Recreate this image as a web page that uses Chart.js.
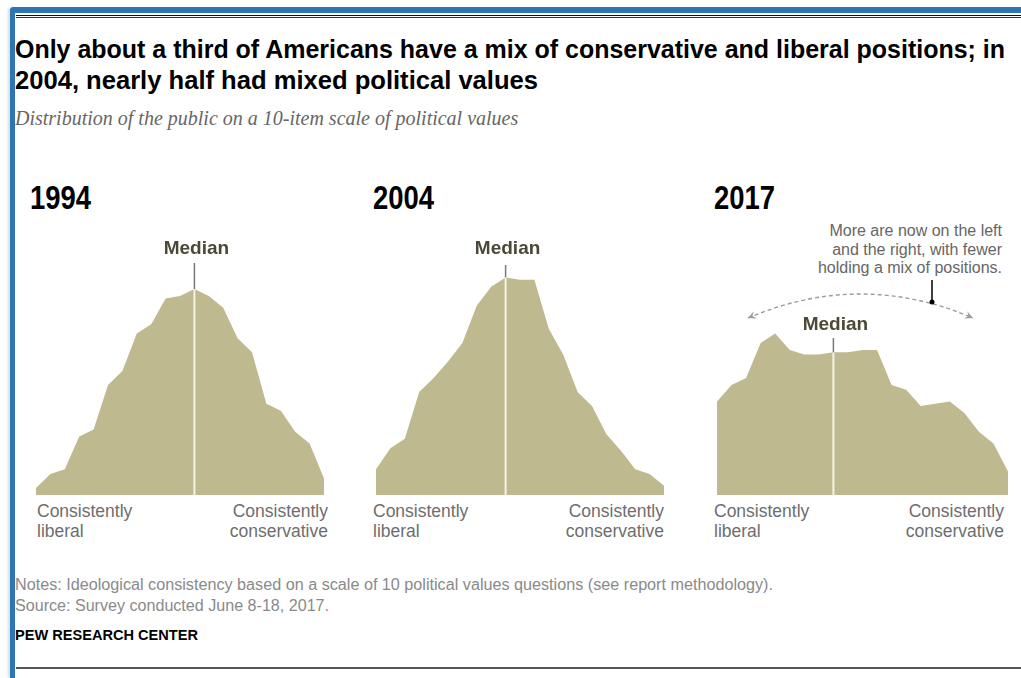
<!DOCTYPE html>
<html>
<head>
<meta charset="utf-8">
<script src="https://cdn.jsdelivr.net/npm/chart.js@4"></script>
<style>
  body { margin: 0; background: #fff; width: 1021px; height: 678px; overflow: hidden; position: relative; }
  .frame-top { position: absolute; left: 10px; top: 7px; width: 1011px; height: 6px; background: #2e75b6; border-top-left-radius: 4px; }
  .frame-left { position: absolute; left: 10px; top: 7px; width: 5px; height: 671px; background: #2e75b6; border-top-left-radius: 4px; box-shadow: -2px 0 3px rgba(0,0,0,0.15); }
  .rule1 { position: absolute; left: 16px; top: 15px; width: 1005px; height: 1px; background: #111; }
  .rule2 { position: absolute; left: 16px; top: 17px; width: 1005px; height: 1px; background: #333; }
  .rule3 { position: absolute; left: 16px; top: 667px; width: 1005px; height: 2px; background: #555; }
  .txt { position: absolute; white-space: nowrap; }
  .fit { display: inline-block; transform-origin: 0 0; }
  .title { left: 15px; font: bold 26px "Liberation Sans", sans-serif; color: #000; }
  #subtitle { left: 15px; top: 107px; font: italic 20px "Liberation Serif", serif; color: #666; }
  .year { font: bold 33px "Liberation Sans", sans-serif; color: #000; top: 179px; }
  .lab { font: 17.5px "Liberation Sans", sans-serif; color: #6e6e6e; line-height: 20px; top: 501px; }
  .right { text-align: right; }
  .notes { left: 15px; font: 16px "Liberation Sans", sans-serif; color: #8a8a8a; }
  #pew { left: 15px; top: 627px; font: bold 14px "Liberation Sans", sans-serif; color: #000; }
  #annot { right: 19px; top: 222px; font: 16px "Liberation Sans", sans-serif; color: #666; line-height: 18.5px; text-align: right; }
  canvas { position: absolute; }
</style>
</head>
<body>
<div class="frame-top"></div>
<div class="frame-left"></div>
<div class="rule1"></div>
<div class="rule2"></div>

<div class="txt title" style="top:34px"><span class="fit" data-w="990">Only about a third of Americans have a mix of conservative and liberal positions; in</span></div>
<div class="txt title" style="top:65px"><span class="fit" data-w="523">2004, nearly half had mixed political values</span></div>
<div id="subtitle" class="txt">Distribution of the public on a 10-item scale of political values</div>

<div class="txt year" style="left:30px"><span class="fit" data-w="61">1994</span></div>
<div class="txt year" style="left:373px"><span class="fit" data-w="61">2004</span></div>
<div class="txt year" style="left:714px"><span class="fit" data-w="61">2017</span></div>

<div id="annot" class="txt">More are now on the left<br>and the right, with fewer<br>holding a mix of positions.</div>

<canvas id="c1994" width="288" height="315" style="left:36px; top:180px"></canvas>
<canvas id="c2004" width="288" height="315" style="left:376px; top:180px"></canvas>
<canvas id="c2017" width="291" height="315" style="left:717px; top:180px"></canvas>

<div class="txt lab" style="left:37px">Consistently<br>liberal</div>
<div class="txt lab right" style="left:208px; width:120px">Consistently<br>conservative</div>
<div class="txt lab" style="left:373px">Consistently<br>liberal</div>
<div class="txt lab right" style="left:544px; width:120px">Consistently<br>conservative</div>
<div class="txt lab" style="left:714px">Consistently<br>liberal</div>
<div class="txt lab right" style="left:884px; width:120px">Consistently<br>conservative</div>

<div class="txt notes" style="top:576px"><span class="fit" data-w="758">Notes: Ideological consistency based on a scale of 10 political values questions (see report methodology).</span></div>
<div class="txt notes" style="top:597px"><span class="fit" data-w="314">Source: Survey conducted June 8-18, 2017.</span></div>
<div id="pew" class="txt"><span class="fit" data-w="183">PEW RESEARCH CENTER</span></div>
<div class="rule3"></div>

<script>
// scale positions -10 (consistently liberal) ... +10 (consistently conservative)
var scalePoints = [-10,-9,-8,-7,-6,-5,-4,-3,-2,-1,0,1,2,3,4,5,6,7,8,9,10];

// share of public at each point, %
var share1994 = [0.3, 0.9, 1.1, 2.5, 2.8, 4.7, 5.3, 6.9, 7.3, 8.4, 8.5, 8.8, 8.5, 8.0, 6.7, 6.1, 3.9, 3.6, 2.7, 2.2, 0.7];
var share2004 = [1.1, 2.0, 2.4, 4.4, 5.0, 5.7, 6.5, 8.1, 8.9, 9.3, 9.2, 9.2, 7.1, 6.0, 4.4, 3.8, 2.6, 1.9, 1.1, 0.9, 0.4];
var share2017 = [4.0, 4.7, 5.0, 6.5, 6.9, 6.2, 6.0, 6.0, 6.1, 6.1, 6.2, 6.2, 4.7, 4.5, 3.8, 3.9, 4.0, 3.5, 2.7, 2.2, 1.0];

var years = ['1994', '2004', '2017'];
var medians = [1, -1, -2];

var fillColor = '#bfb98f';

// squeeze text to the width it has in the original (narrow typeface there)
document.querySelectorAll('.fit').forEach(function(el) {
  var w = +el.getAttribute('data-w');
  el.style.transform = 'scaleX(' + (w / el.getBoundingClientRect().width) + ')';
});

// median marker + label
var medianPlugin = {
  id: 'median',
  afterDatasetsDraw: function(chart, args, opts) {
    var ctx = chart.ctx;
    var xs = chart.scales.x, ys = chart.scales.y;
    var idx = scalePoints.indexOf(opts.value);
    var x = xs.getPixelForValue(idx);
    var top = ys.getPixelForValue(chart.data.datasets[0].data[idx]);
    var base = ys.getPixelForValue(0);
    ctx.save();
    ctx.strokeStyle = '#f4f2e8';
    ctx.lineWidth = 2;
    ctx.beginPath();
    ctx.moveTo(x, base);
    ctx.lineTo(x, top);
    ctx.stroke();
    ctx.strokeStyle = '#7a7a7a';
    ctx.lineWidth = 1.5;
    ctx.beginPath();
    ctx.moveTo(x, opts.tickY);
    ctx.lineTo(x, top);
    ctx.stroke();
    ctx.fillStyle = '#4b4837';
    ctx.font = 'bold 19px "Liberation Sans", sans-serif';
    ctx.textAlign = 'center';
    ctx.textBaseline = 'middle';
    ctx.fillText('Median', x + 2, opts.labelY);
    ctx.restore();
  }
};

// dashed arrow for 2017
var spreadPlugin = {
  id: 'spread',
  afterDraw: function(chart, args, opts) {
    if (!opts.on) return;
    var ctx = chart.ctx;
    var x0 = 31, y0 = 138, x1 = 256, y1 = 138, cx = 143.5, cy = 90;
    ctx.save();
    ctx.strokeStyle = '#9a9a9a';
    ctx.fillStyle = '#9a9a9a';
    ctx.lineWidth = 1.4;
    ctx.setLineDash([4, 3]);
    ctx.beginPath();
    ctx.moveTo(x0, y0);
    ctx.quadraticCurveTo(cx, cy, x1, y1);
    ctx.stroke();
    ctx.setLineDash([]);
    function head(x, y, dx, dy) {
      var l = Math.sqrt(dx * dx + dy * dy);
      dx /= l; dy /= l;
      var s = 8, w = 4;
      ctx.beginPath();
      ctx.moveTo(x, y);
      ctx.lineTo(x - dx * s - dy * w, y - dy * s + dx * w);
      ctx.lineTo(x - dx * s * 0.6, y - dy * s * 0.6);
      ctx.lineTo(x - dx * s + dy * w, y - dy * s - dx * w);
      ctx.closePath();
      ctx.fill();
    }
    head(x0, y0, x0 - cx, y0 - cy);
    head(x1, y1, x1 - cx, y1 - cy);
    // pointer from note
    ctx.strokeStyle = '#000';
    ctx.lineWidth = 1.5;
    ctx.beginPath();
    ctx.moveTo(215, 100);
    ctx.lineTo(215, 122);
    ctx.stroke();
    ctx.fillStyle = '#000';
    ctx.beginPath();
    ctx.arc(215, 122, 2.5, 0, Math.PI * 2);
    ctx.fill();
    ctx.restore();
  }
};

function makeChart(id, values, median, labelY, tickY, arrow) {
  return new Chart(document.getElementById(id), {
    type: 'line',
    data: {
      labels: scalePoints,
      datasets: [{
        data: values,
        fill: 'origin',
        backgroundColor: fillColor,
        borderWidth: 0,
        pointRadius: 0,
        tension: 0
      }]
    },
    options: {
      responsive: false,
      animation: false,
      layout: { padding: { top: 81, left: 0, right: 0, bottom: 0 } },
      scales: {
        x: { display: false, offset: false },
        y: { display: false, min: 0, max: 10 }
      },
      plugins: {
        legend: { display: false },
        tooltip: { enabled: false },
        median: { value: median, labelY: labelY, tickY: tickY },
        spread: { on: arrow }
      }
    },
    plugins: [medianPlugin, spreadPlugin]
  });
}

makeChart('c1994', share1994, medians[0], 69, 83, false);
makeChart('c2004', share2004, medians[1], 69, 85, false);
makeChart('c2017', share2017, medians[2], 145, 158, true);
</script>
</body>
</html>
